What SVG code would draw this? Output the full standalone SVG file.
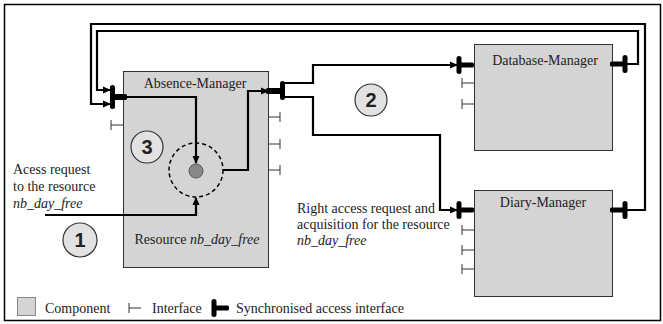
<svg xmlns="http://www.w3.org/2000/svg" width="663" height="324" viewBox="0 0 663 324">
<style>
.box{fill:#d4d4d4;stroke:#333;stroke-width:1}
.lbl{font-family:"Liberation Serif","Times New Roman",serif;font-size:14px;fill:#222}
.mid{text-anchor:middle}
.it{font-style:italic}
.num{font-family:"Liberation Sans",Arial,sans-serif;font-size:20px;font-weight:bold;fill:#222;text-anchor:middle}
.numc{fill:#e2e2e2;stroke:#333;stroke-width:1.2}
.wire{fill:none;stroke:#000;stroke-width:2.2}
.itf{fill:none;stroke:#333;stroke-width:1}
.blk{fill:#000}
</style>
<defs>
<marker id="ah" markerWidth="8" markerHeight="8" refX="7" refY="4" orient="auto" markerUnits="userSpaceOnUse"><path d="M0,0.5 L8,4 L0,7.5 z" fill="#000"/></marker>
<g id="sync"><rect x="-2.5" y="-9" width="5" height="18" rx="2.5" class="blk"/><rect x="0" y="-2.5" width="15" height="5" rx="1.5" class="blk"/></g>
<path id="itf" d="M0,-5 V5 M0,0 H12"/>
</defs>
<rect x="0" y="0" width="663" height="324" fill="#fff"/>
<rect x="4.5" y="4.5" width="656" height="316" fill="none" stroke="#000" stroke-width="1.5"/>

<g id="absence-manager">
<rect class="box" x="123.5" y="71.5" width="145" height="196"/>
<text class="lbl mid" x="195" y="88">Absence-Manager</text>
<text class="lbl mid" x="197" y="244">Resource <tspan class="it">nb_day_free</tspan></text>
<circle cx="196" cy="170" r="27" fill="none" stroke="#000" stroke-width="1.5" stroke-dasharray="4,3"/>
<circle cx="196" cy="171" r="7" fill="#888" stroke="#555" stroke-width="1"/>
<use href="#itf" class="itf" x="111" y="125"/>
<use href="#itf" class="itf" transform="translate(280,117) scale(-1,1)"/>
<use href="#itf" class="itf" transform="translate(280,144) scale(-1,1)"/>
<use href="#itf" class="itf" transform="translate(280,170) scale(-1,1)"/>
<rect x="110" y="85" width="5" height="24" rx="2.5" class="blk"/>
<rect x="112" y="94" width="15" height="6" rx="1.5" class="blk"/>
<rect x="280" y="81" width="5" height="19" rx="2.5" class="blk"/>
<rect x="266" y="88" width="16" height="6" rx="1.5" class="blk"/>
</g>

<g id="database-manager">
<rect class="box" x="474.5" y="44.5" width="138" height="106"/>
<text class="lbl mid" x="545" y="65">Database-Manager</text>
<use href="#itf" class="itf" x="462" y="83"/>
<use href="#itf" class="itf" x="462" y="104"/>
<use href="#sync" transform="translate(459,65)"/>
<use href="#sync" transform="translate(625,64) scale(-1,1)"/>
</g>

<g id="diary-manager">
<rect class="box" x="474.5" y="190.5" width="138" height="106"/>
<text class="lbl mid" x="543" y="207">Diary-Manager</text>
<use href="#itf" class="itf" x="462" y="230"/>
<use href="#itf" class="itf" x="462" y="250"/>
<use href="#itf" class="itf" x="462" y="269"/>
<use href="#sync" transform="translate(459,210)"/>
<use href="#sync" transform="translate(625,210) scale(-1,1)"/>
</g>

<g id="connectors">
<path class="wire" d="M627,210 H645 V24 H91 V104 H110" marker-end="url(#ah)"/>
<path class="wire" d="M627,64 H638 V31 H97 V90 H110" marker-end="url(#ah)"/>
<path class="wire" d="M122,97 H196 V163" marker-end="url(#ah)"/>
<path class="wire" d="M45,215 H196 V198" marker-end="url(#ah)"/>
<path class="wire" d="M223,170 H248 V91 H268" marker-end="url(#ah)"/>
<path class="wire" d="M284,83 H313 V65 H457" marker-end="url(#ah)"/>
<path class="wire" d="M284,97 H313 V135 H440 V210 H457" marker-end="url(#ah)"/>
</g>

<g id="step-1"><circle class="numc" cx="80" cy="240" r="17"/><text class="num" x="80" y="247">1</text></g>
<g id="step-2"><circle class="numc" cx="371" cy="100" r="16"/><text class="num" x="371" y="107">2</text></g>
<g id="step-3"><circle class="numc" cx="147" cy="147" r="16"/><text class="num" x="147" y="154">3</text></g>

<g id="notes">
<text class="lbl" x="13" y="174">Acess request</text>
<text class="lbl" x="13" y="191">to the resource</text>
<text class="lbl it" x="13" y="208">nb_day_free</text>
<text class="lbl" x="297" y="213">Right access request and</text>
<text class="lbl" x="297" y="229">acquisition for the resource</text>
<text class="lbl it" x="297" y="245">nb_day_free</text>
</g>

<g id="legend">
<rect x="17.5" y="297.5" width="18" height="18" fill="#d4d4d4" stroke="#888" stroke-width="1"/>
<text class="lbl" x="45" y="313">Component</text>
<use href="#itf" class="itf" x="129" y="308"/>
<text class="lbl" x="152" y="313">Interface</text>
<use href="#sync" transform="translate(214,308)"/>
<text class="lbl" x="236" y="313">Synchronised access interface</text>
</g>
</svg>
